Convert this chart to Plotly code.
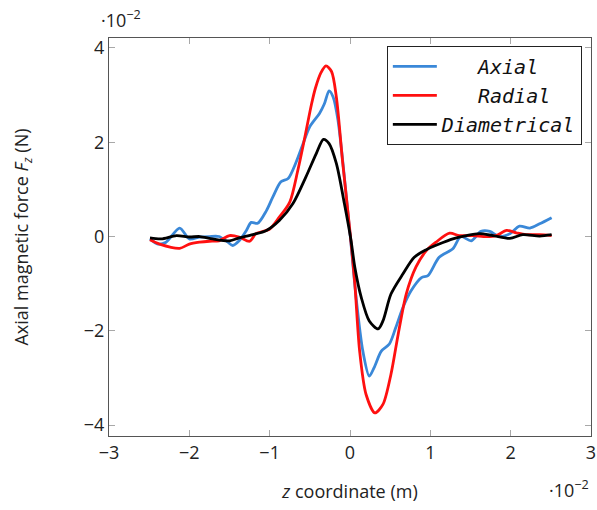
import plotly.graph_objects as go

# Axial (blue)
axial_z = [-2.49, -2.39, -2.29, -2.12, -2.0, -1.87, -1.75, -1.63, -1.52, -1.46, -1.38, -1.29, -1.23, -1.15,
           -1.04, -0.96, -0.86, -0.77, -0.67, -0.59, -0.50, -0.38, -0.32, -0.26, -0.21, -0.15, 0.0, 0.08,
           0.16, 0.24, 0.30, 0.39, 0.49, 0.57, 0.66, 0.76, 0.89, 0.97, 1.11, 1.28, 1.38, 1.51, 1.63, 1.74,
           1.86, 1.99, 2.11, 2.24, 2.36, 2.51]
axial_f = [-0.05, -0.16, -0.12, 0.18, -0.05, -0.01, 0.0, 0.0, -0.12, -0.19, -0.09, 0.13, 0.30, 0.28,
           0.55, 0.84, 1.16, 1.23, 1.58, 1.94, 2.33, 2.61, 2.81, 3.09, 2.96, 2.47, 0.06, -1.36,
           -2.43, -2.96, -2.78, -2.43, -2.28, -1.93, -1.50, -1.15, -0.87, -0.83, -0.44, -0.26, 0.0, -0.09, 0.11, 0.11,
           0.0, 0.06, 0.22, 0.18, 0.27, 0.40]

# Radial (red)
radial_z = [-2.49, -2.37, -2.12, -2.0, -1.87, -1.75, -1.63, -1.50, -1.38, -1.25, -1.17, -1.00, -0.88, -0.75,
            -0.65, -0.57, -0.48, -0.43, -0.36, -0.30, -0.23, -0.17, -0.09, 0.0, 0.06, 0.12, 0.20, 0.31, 0.41,
            0.51, 0.60, 0.70, 0.82, 0.95, 1.07, 1.24, 1.36, 1.53, 1.70, 1.82, 1.95, 2.07, 2.19, 2.36, 2.51]
radial_f = [-0.07, -0.16, -0.25, -0.16, -0.12, -0.10, -0.09, 0.02, -0.01, -0.10, 0.06, 0.16, 0.41, 0.73,
            1.40, 2.04, 2.80, 3.15, 3.48, 3.62, 3.50, 2.96, 1.55, 0.10, -1.0, -2.43, -3.35, -3.74, -3.56,
            -2.92, -2.07, -1.22, -0.65, -0.30, -0.12, 0.07, 0.02, 0.02, 0.0, 0.02, 0.13, 0.08, 0.04, 0.04, 0.02]

# Diametrical (black)
diam_z = [-2.49, -2.35, -2.16, -2.0, -1.87, -1.71, -1.50, -1.38, -1.21, -1.04, -0.88, -0.71, -0.55, -0.42,
          -0.33, -0.26, -0.17, -0.07, 0.01, 0.06, 0.14, 0.24, 0.35, 0.41, 0.51, 0.66, 0.80, 0.95,
          1.11, 1.28, 1.45, 1.61, 1.78, 1.99, 2.15, 2.36, 2.51]
diam_f = [-0.03, -0.05, 0.02, -0.01, 0.0, -0.05, -0.09, -0.03, 0.04, 0.13, 0.34, 0.70, 1.26, 1.76,
          2.06, 1.97, 1.55, 0.70, -0.05, -0.65, -1.29, -1.79, -1.96, -1.79, -1.22, -0.79, -0.44, -0.28,
          -0.16, -0.05, 0.02, 0.06, 0.02, -0.04, 0.04, 0.01, 0.04]

x_ticks = [-3, -2, -1, 0, 1, 2, 3]
y_ticks = [-4, -2, 0, 2, 4]

NB = "\u00a0"
fig = go.Figure()
fig.add_trace(go.Scatter(x=axial_z, y=axial_f, mode="lines", name=NB * 3 + "<i>Axial</i>",
                         line=dict(color="#3a88d8", width=2.8, shape="spline", smoothing=0.8)))
fig.add_trace(go.Scatter(x=radial_z, y=radial_f, mode="lines", name=NB * 2 + "\u2002<i>Radial</i>",
                         line=dict(color="#ff1010", width=2.8, shape="spline", smoothing=0.8)))
fig.add_trace(go.Scatter(x=diam_z, y=diam_f, mode="lines", name="<i>Diametrical</i>",
                         line=dict(color="#000000", width=2.8, shape="spline", smoothing=0.8)))

axis_common = dict(showline=True, linecolor="#555555", linewidth=1.3, mirror="ticks", ticks="inside",
                   ticklen=6, tickcolor="#a8a8a8", tickwidth=1, showgrid=False, zeroline=False,
                   automargin=False,
                   tickfont=dict(family="Open Sans", size=18, color="#222222"))

fig.update_xaxes(range=[-3, 3], tickvals=x_ticks, ticktext=[("−" + str(-v)) if v < 0 else str(v) for v in x_ticks],
                 title=dict(text="<i>z</i> coordinate (m)", font=dict(family="Open Sans", size=18, color="#222222"),
                            standoff=22),
                 **axis_common)
fig.update_yaxes(range=[-4.23, 4.21], tickvals=y_ticks, ticktext=[("−" + str(-v)) if v < 0 else str(v) for v in y_ticks],
                 title=dict(text="Axial magnetic force <i>F<sub>z</sub></i> (N)",
                            font=dict(family="Open Sans", size=18, color="#222222"), standoff=50),
                 **axis_common)

fig.add_annotation(text="·10<sup>−2</sup>", xref="paper", yref="paper", x=0, y=1, xanchor="center",
                   yanchor="bottom", xshift=12, yshift=4, showarrow=False,
                   font=dict(family="Open Sans", size=18, color="#222222"))
fig.add_annotation(text="·10<sup>−2</sup>", xref="paper", yref="paper", x=1, y=0, xanchor="right",
                   yanchor="top", yshift=-38, showarrow=False,
                   font=dict(family="Open Sans", size=18, color="#222222"))

fig.update_layout(
    width=597, height=510,
    margin=dict(l=109, r=6, t=38, b=74),
    paper_bgcolor="white", plot_bgcolor="white",
    showlegend=True,
    legend=dict(x=0.981, y=0.98, xanchor="right", yanchor="top", bgcolor="white",
                bordercolor="#222222", borderwidth=1, itemwidth=44,
                font=dict(family="DejaVu Sans Mono", size=20, color="#111111")),
)

fig.write_html("out.html")
